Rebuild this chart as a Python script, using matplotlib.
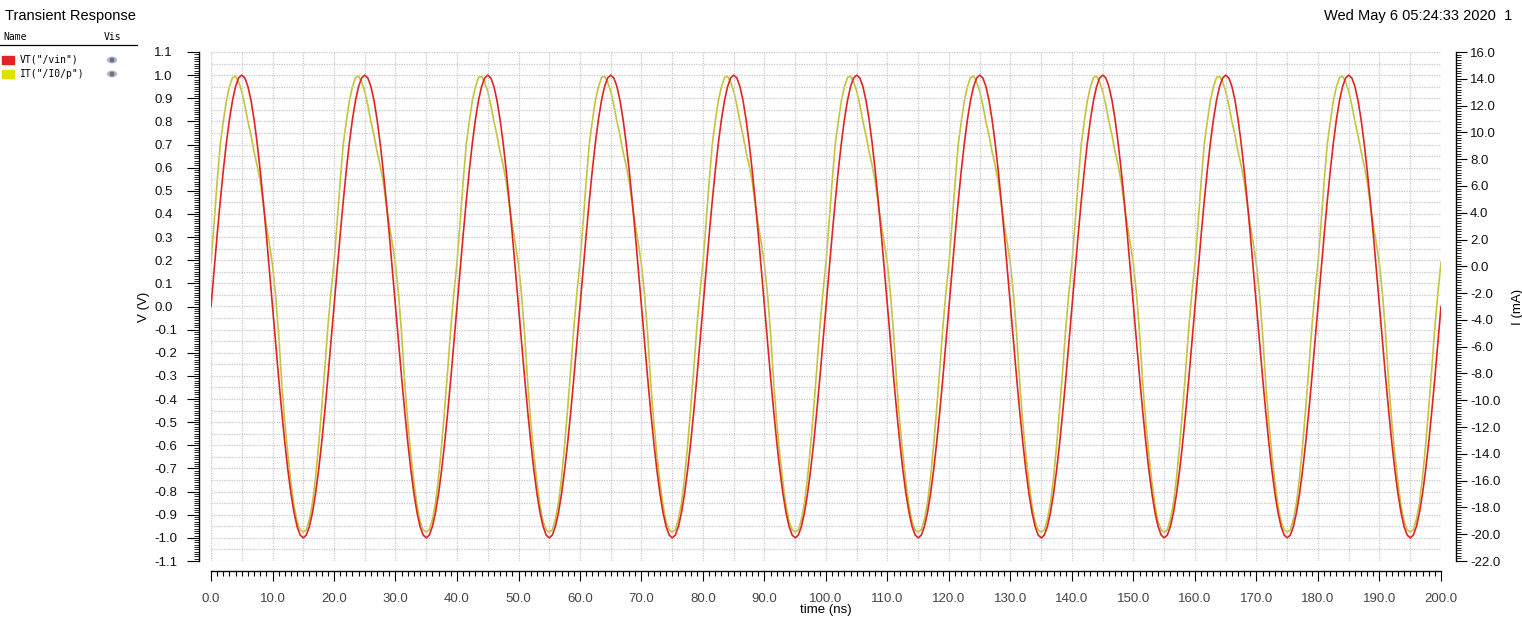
import numpy as np
import matplotlib
matplotlib.use("Agg")
import matplotlib.pyplot as plt
from matplotlib.ticker import MultipleLocator, FormatStrFormatter
from matplotlib.patches import Ellipse, Rectangle
from matplotlib.lines import Line2D

plt.rcParams['axes.unicode_minus'] = False
plt.rcParams['font.family'] = ['Liberation Sans', 'DejaVu Sans']

# ---------------- data ----------------
title = "Transient Response"
timestamp = "Wed May 6 05:24:33 2020  1"
series_names = ['VT("/vin")', 'IT("/I0/p")']
x_label = "time (ns)"
y_label_left = "V (V)"
y_label_right = "I (mA)"

sample_step_ns = 0.5
n_periods = 10
# one 20 ns period of each waveform, sampled every 0.5 ns
vin_period_V = [0.000, 0.156, 0.309, 0.454, 0.588, 0.707, 0.809, 0.891, 0.951, 0.988,
                1.000, 0.988, 0.951, 0.891, 0.809, 0.707, 0.588, 0.454, 0.309, 0.156,
                0.000, -0.156, -0.309, -0.454, -0.588, -0.707, -0.809, -0.891, -0.951, -0.988,
                -1.000, -0.988, -0.951, -0.891, -0.809, -0.707, -0.588, -0.454, -0.309, -0.156]
ip_period_mA = [0.28, 3.22, 6.33, 9.09, 10.82, 12.37, 13.41, 14.10, 14.19, 13.75,
                13.06, 12.03, 10.82, 9.78, 8.57, 7.54, 6.33, 4.60, 3.05, 1.66,
                0.11, -2.14, -5.07, -8.70, -11.64, -14.05, -16.13, -17.85, -19.06, -19.67,
                -19.84, -19.67, -18.89, -17.68, -15.78, -13.36, -10.60, -7.66, -4.55, -1.96]

vin = np.concatenate([np.tile(vin_period_V, n_periods), [vin_period_V[0]]])
ip = np.concatenate([np.tile(ip_period_mA, n_periods), [ip_period_mA[0]]])
t = np.arange(len(vin)) * sample_step_ns

red = '#e02424'
yellow_line = '#c4c43a'
yellow_swatch = '#e0e000'
grid_col = '#c8c8c8'

# ---------------- figure ----------------
W, H = 1522, 618
fig = plt.figure(figsize=(W / 100, H / 100), dpi=100)
left, right, top, bottom = 211, 1441, 52, 561
ax = fig.add_axes([left / W, 1 - bottom / H, (right - left) / W, (bottom - top) / H])
ax2 = ax.twinx()
ax.set_zorder(ax2.get_zorder() + 1)
ax.patch.set_visible(False)

ax.set_xlim(0, 200)
ax.set_ylim(-1.1, 1.1)
ax2.set_ylim(-22, 16)

# dotted grid: every 5 ns and every 0.05 V
for gx in np.arange(0, 200.01, 5):
    ax.axvline(gx, color=grid_col, lw=0.9, ls=(0, (1, 1)), zorder=0)
for gy in np.arange(-1.1, 1.1001, 0.05):
    ax.axhline(gy, color=grid_col, lw=0.9, ls=(0, (1, 1)), zorder=0)

ax2.plot(t, ip, color=yellow_line, lw=1.2, zorder=2)
ax.plot(t, vin, color=red, lw=1.2, zorder=3)

# spines
for s in ['top', 'right']:
    ax.spines[s].set_visible(False)
for s in ['top', 'left', 'bottom']:
    ax2.spines[s].set_visible(False)
ax.spines['left'].set_position(('outward', 9))
ax.spines['bottom'].set_position(('outward', 7))
ax2.spines['right'].set_position(('outward', 11))
for sp in [ax.spines['left'], ax.spines['bottom'], ax2.spines['right']]:
    sp.set_linewidth(1.0)
    sp.set_color('black')

# ticks
ax.xaxis.set_major_locator(MultipleLocator(10))
ax.xaxis.set_minor_locator(MultipleLocator(1))
ax.xaxis.set_major_formatter(FormatStrFormatter('%.1f'))
ax.yaxis.set_major_locator(MultipleLocator(0.1))
ax.yaxis.set_minor_locator(MultipleLocator(0.01))
ax.yaxis.set_major_formatter(FormatStrFormatter('%.1f'))
ax2.yaxis.set_major_locator(MultipleLocator(2))
ax2.yaxis.set_minor_locator(MultipleLocator(0.2))
ax2.yaxis.set_major_formatter(FormatStrFormatter('%.1f'))

ax.tick_params(axis='x', which='major', length=7.5, width=0.8, pad=8.5,
               labelsize=9.5, labelcolor='#444444')
ax.tick_params(axis='x', which='minor', length=3.5, width=0.8)
ax.tick_params(axis='y', which='major', length=8.5, width=0.8, pad=23.5,
               labelsize=9.5, labelcolor='#111111')
ax.tick_params(axis='y', which='minor', length=3.5, width=0.6)
ax2.tick_params(axis='y', which='major', length=8, width=0.8, pad=2,
                labelsize=9.5, labelcolor='#111111')
ax2.tick_params(axis='y', which='minor', length=3.5, width=0.6)
for lab in ax.get_yticklabels():
    lab.set_horizontalalignment('left')

ax.set_xlabel(x_label, fontsize=9.5, labelpad=-1)
ax.set_ylabel(y_label_left, fontsize=9.5, labelpad=3)
ax2.set_ylabel(y_label_right, fontsize=9.5, labelpad=8)

# header texts
fig.text(5 / W, 1 - 16 / H, title, fontsize=10.5, va='center', ha='left')
fig.text(1512 / W, 1 - 16 / H, timestamp, fontsize=10.5, va='center', ha='right')

# name/vis panel
mono = 'DejaVu Sans Mono'
fig.text(3 / W, 1 - 37 / H, 'Name', fontsize=7, family=mono, va='center')
fig.text(104 / W, 1 - 37 / H, 'Vis', fontsize=7, family=mono, va='center')
fig.add_artist(Line2D([0, 137 / W], [1 - 44.5 / H, 1 - 44.5 / H], color='black', lw=0.9,
                      transform=fig.transFigure))
swatches = [red, yellow_swatch]
for i, (name, col) in enumerate(zip(series_names, swatches)):
    yc = 60 + 14 * i
    fig.add_artist(Rectangle((2 / W, 1 - (yc + 3.5) / H), 12 / W, 7 / H, color=col,
                             transform=fig.transFigure))
    fig.text(20 / W, 1 - yc / H, name, fontsize=7, family=mono, va='center')
    fig.add_artist(Ellipse((112 / W, 1 - yc / H), 9 / W, 5.5 / H, color='#b4bccc',
                           transform=fig.transFigure))
    fig.add_artist(Ellipse((112 / W, 1 - yc / H), 3.5 / W, 3.5 / H, color='#6a7284',
                           transform=fig.transFigure))

fig.savefig('out.png', dpi=100)
